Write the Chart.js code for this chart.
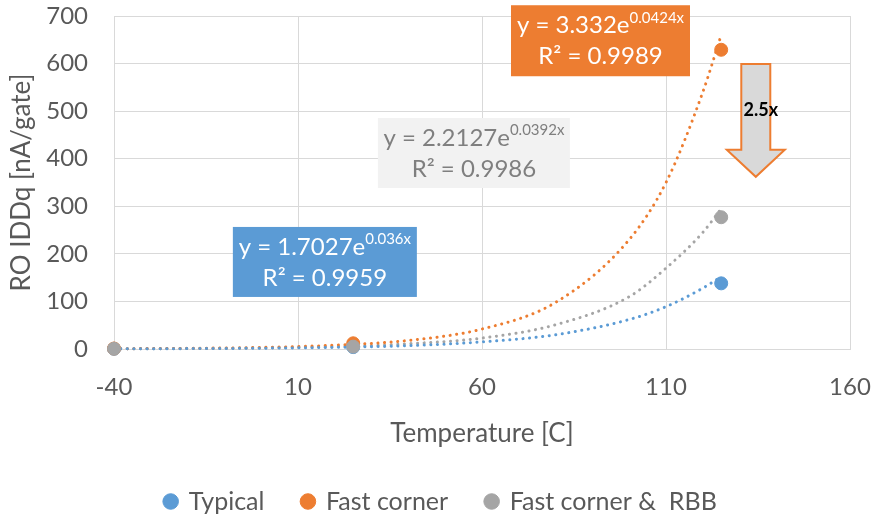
<!DOCTYPE html>
<html>
<head>
<meta charset="utf-8">
<script src="https://cdn.jsdelivr.net/npm/chart.js@4.4.1/dist/chart.umd.min.js"></script>
<style>
  html,body{margin:0;padding:0;background:#fff;}
  #wrap{width:876px;height:524px;position:relative;}
</style>
</head>
<body>
<div id="wrap"><canvas id="c"></canvas></div>
<script>
/* ---------- data ---------- */
const SERIES   = ['Typical','Fast corner','Fast corner &  RBB'];
const COLORS   = ['#5B9BD5','#ED7D31','#A5A5A5'];
const TEMPS    = [-40, 25, 125];
const TYPICAL  = [0.5, 4, 138];
const FAST     = [1, 12, 629];
const RBB      = [0.5, 5, 277];

// dotted trend lines
const TREND_X       = [-40, -20, 0, 20, 40, 60, 80, 100, 110, 120, 125];
const TREND_TYPICAL = [0.4, 0.8, 1.7, 3.5, 7, 15, 30, 62, 89, 128, 152];
const TREND_FAST    = [0.6, 1.4, 3.3, 8, 18, 42, 98, 230, 350, 540, 660];
const TREND_RBB     = [0.5, 1, 2.2, 5, 11, 23, 51, 110, 170, 245, 295];

const X_TICKS = [-40, 10, 60, 110, 160];

// equation boxes: [centre x, centre y] in data units
const NOTES = [
  {x:17.3, y:183, w:184, h:70, fill:'#5B9BD5', color:'#ffffff', a:'y = 1.7027e', sup:'0.036x',  r:'R² = 0.9959'},
  {x:57.8, y:412, w:192, h:70, fill:'#F2F2F2', color:'#7F7F7F', a:'y = 2.2127e', sup:'0.0392x', r:'R² = 0.9986'},
  {x:92.2, y:648, w:179, h:71, fill:'#ED7D31', color:'#ffffff', a:'y = 3.332e',  sup:'0.0424x', r:'R² = 0.9989'}
];
const ARROW = {x:134.4, top:599, tip:362, label:'2.5x'};

const FONT = 'Lato, "Open Sans", sans-serif';
const TXT  = '#595959';

const pts = (xs, ys) => xs.map((x,i)=>({x, y:ys[i]}));

/* ---------- datasets ---------- */
const marks = [TYPICAL, FAST, RBB].map((ys,i)=>({
  label: SERIES[i], data: pts(TEMPS, ys),
  backgroundColor: COLORS[i], borderColor: COLORS[i],
  pointRadius: 6.5, pointHoverRadius: 6.5, showLine: false,
  clip: false, order: 2 - i
}));
const trends = [TREND_TYPICAL, TREND_FAST, TREND_RBB].map((ys,i)=>({
  label: 'trend ' + SERIES[i], data: pts(TREND_X, ys),
  borderColor: COLORS[i], borderWidth: 3, borderDash: [0.1, 6.5],
  borderCapStyle: 'round', pointRadius: 0, showLine: true,
  cubicInterpolationMode: 'monotone', fill: false, clip: false, order: 5 + i
}));

/* ---------- annotations ---------- */
const notesPlugin = {
  id: 'notes',
  afterLayout(chart){
    // legend sits a bit right of centre in the original
    chart.legend.left += 16;
    chart.legend.right += 16;
  },
  afterDatasetsDraw(chart){
    const ctx = chart.ctx, xs = chart.scales.x, ys = chart.scales.y;
    ctx.save();
    NOTES.forEach(n=>{
      const cx = xs.getPixelForValue(n.x), cy = ys.getPixelForValue(n.y);
      ctx.fillStyle = n.fill;
      ctx.fillRect(cx - n.w/2, cy - n.h/2, n.w, n.h);
      ctx.fillStyle = n.color;
      ctx.textBaseline = 'middle';
      ctx.textAlign = 'left';
      ctx.font = '24px ' + FONT;
      const wa = ctx.measureText(n.a).width;
      ctx.font = '15px ' + FONT;
      const ws = ctx.measureText(n.sup).width;
      const x0 = cx - (wa + ws)/2;
      ctx.font = '24px ' + FONT;
      ctx.fillText(n.a, x0, cy - 15);
      ctx.font = '15px ' + FONT;
      ctx.fillText(n.sup, x0 + wa, cy - 23);
      ctx.font = '24px ' + FONT;
      ctx.textAlign = 'center';
      ctx.fillText(n.r, cx, cy + 16);
    });
    // arrow
    const ax = xs.getPixelForValue(ARROW.x);
    const top = ys.getPixelForValue(ARROW.top), tip = ys.getPixelForValue(ARROW.tip);
    const sw = 14.5, hw = 29, hh = 27;
    ctx.beginPath();
    ctx.moveTo(ax - sw, top);
    ctx.lineTo(ax + sw, top);
    ctx.lineTo(ax + sw, tip - hh);
    ctx.lineTo(ax + hw, tip - hh);
    ctx.lineTo(ax, tip);
    ctx.lineTo(ax - hw, tip - hh);
    ctx.lineTo(ax - sw, tip - hh);
    ctx.closePath();
    ctx.fillStyle = '#D9D9D9';
    ctx.fill();
    ctx.strokeStyle = '#ED7D31';
    ctx.lineWidth = 2;
    ctx.stroke();
    ctx.fillStyle = '#000';
    ctx.font = 'bold 18px ' + FONT;
    ctx.textAlign = 'center';
    ctx.textBaseline = 'middle';
    ctx.fillText(ARROW.label, ax + 5, (top + tip)/2 - 10);
    ctx.restore();
  }
};

/* ---------- chart ---------- */
new Chart(document.getElementById('c'), {
  type: 'scatter',
  data: { datasets: [...marks, ...trends] },
  plugins: [notesPlugin],
  options: {
    responsive: true, maintainAspectRatio: false, animation: false,
    layout: { padding: { top: 16, right: 26, left: 0, bottom: 0 } },
    plugins: {
      tooltip: { enabled: false },
      legend: {
        position: 'bottom',
        labels: {
          usePointStyle: true, pointStyle: 'circle', boxWidth: 11, boxHeight: 11,
          padding: 38, color: TXT, font: { family: FONT, size: 25 },
          filter: item => !item.text.startsWith('trend'),
          sort: (a,b) => a.datasetIndex - b.datasetIndex
        }
      }
    },
    scales: {
      x: {
        type: 'linear', min: -40, max: 160,
        afterBuildTicks: s => { s.ticks = X_TICKS.map(v=>({value:v})); },
        afterFit: s => { s.height = 102; s.paddingLeft = 0; s.paddingRight = 0; },
        grid: { color: '#D9D9D9', drawTicks: false, lineWidth: 1 },
        border: { color: '#D9D9D9' },
        ticks: { color: TXT, font: { family: FONT, size: 24 }, padding: 24 },
        title: { display: true, text: 'Temperature [C]', color: TXT,
                 font: { family: FONT, size: 26 }, padding: { top: 0, bottom: 2 } }
      },
      y: {
        min: 0, max: 700,
        afterFit: s => { s.width = 114; s.paddingTop = 0; s.paddingBottom = 0; },
        grid: { color: '#D9D9D9', drawTicks: false, lineWidth: 1 },
        border: { color: '#D9D9D9' },
        ticks: { stepSize: 100, color: TXT, font: { family: FONT, size: 24 }, padding: 26 },
        title: { display: true, text: 'RO IDDq [nA/gate]', color: TXT,
                 font: { family: FONT, size: 26 }, padding: { top: 6, bottom: 0 } }
      }
    }
  }
});
</script>
</body>
</html>
